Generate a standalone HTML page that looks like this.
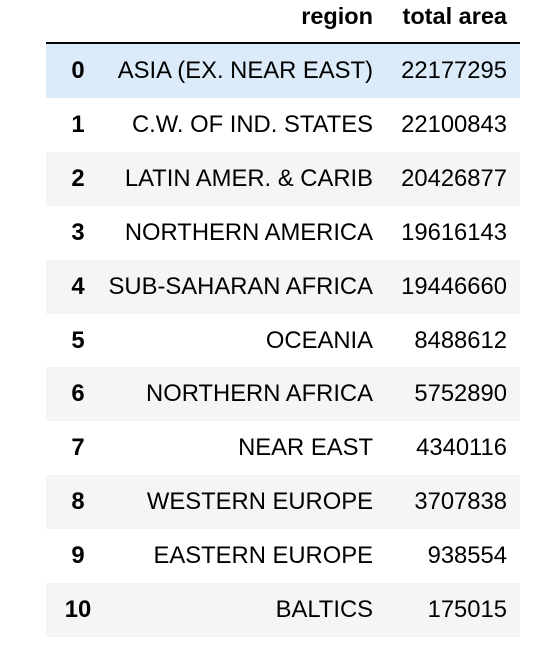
<!DOCTYPE html>
<html><head><meta charset="utf-8"><style>
body{margin:0;width:560px;height:656px;background:#fff;font-family:"Liberation Sans",Arial,sans-serif;color:#000;position:relative;overflow:hidden}
.hdr{position:absolute;top:0;left:46px;width:474px;height:42px;border-bottom:2px solid #000}
.row{position:absolute;left:46px;width:474px;height:54px;font-size:23.8px}
.row.even{background:#f5f5f5}
.row.sel{background:#dbebf9}
.c{position:absolute;top:0;line-height:54px;white-space:nowrap}
.idx{left:0;width:64px;text-align:center;font-weight:bold}
.reg{right:147px;text-align:right}
.val{right:13px;text-align:right}
.h{position:absolute;top:3px;font-weight:bold;font-size:23.5px;white-space:nowrap}
</style></head><body>
<div class="hdr">
<span class="h" style="right:147px">region</span>
<span class="h" style="right:13px">total area</span>
</div>
<div id="rows"></div>
<script>
const idxs=[0,1,2,3,4,5,6,7,8,9,10];
const regions=["ASIA (EX. NEAR EAST)","C.W. OF IND. STATES","LATIN AMER. & CARIB","NORTHERN AMERICA","SUB-SAHARAN AFRICA","OCEANIA","NORTHERN AFRICA","NEAR EAST","WESTERN EUROPE","EASTERN EUROPE","BALTICS"];
const areas=[22177295,22100843,20426877,19616143,19446660,8488612,5752890,4340116,3707838,938554,175015];
const host=document.body;
idxs.forEach((ix,i)=>{
 const r=document.createElement('div');
 r.className='row'+(i===0?' sel':(i%2===0?' even':''));
 r.style.top=(44+i*53.9)+'px';
 
 
 const a=document.createElement('span');a.className='c idx';a.textContent=ix;
 
 
 const b=document.createElement('span');b.className='c reg';b.textContent=regions[i];
 
 
 const c=document.createElement('span');c.className='c val';c.textContent=areas[i];
 
 
 r.append(a,b,c);host.appendChild(r);
});
</script>
</body></html>
